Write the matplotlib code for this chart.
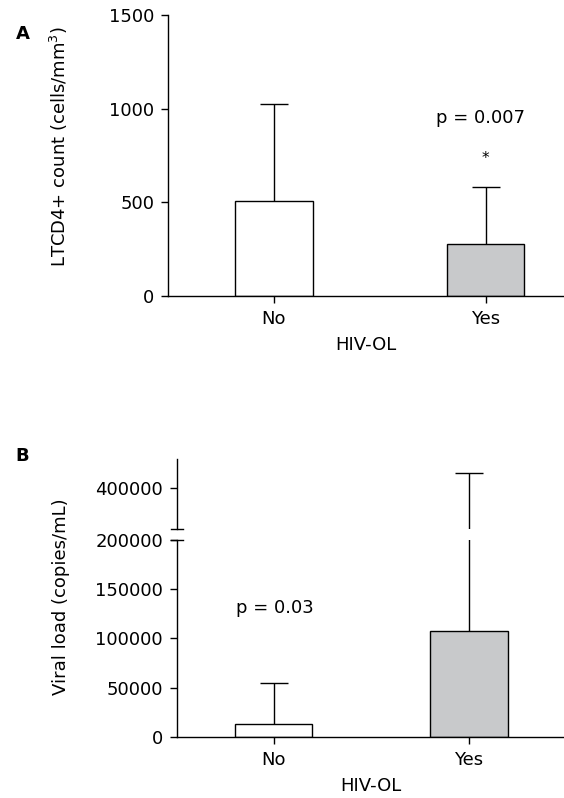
import matplotlib
matplotlib.use("Agg")
import matplotlib.pyplot as plt

# data
groups = ["No", "Yes"]
cd4_mean = [505, 276]
cd4_sd = [522, 308]
vl_mean = [13000, 107000]
vl_sd = [41500, 364000]

plt.rcParams['font.family'] = ['DejaVu Sans']
plt.rcParams['font.size'] = 13
plt.rcParams['axes.linewidth'] = 1.0
plt.rcParams['mathtext.default'] = 'regular'

fill = ["white", "#c8c9cb"]
fig = plt.figure(figsize=(5.64, 7.98), dpi=100)


def style(ax, bottom=True):
    ax.spines['top'].set_visible(False)
    ax.spines['right'].set_visible(False)
    ax.tick_params(direction='out', length=5, width=1.0, pad=5)
    if not bottom:
        ax.spines['bottom'].set_visible(False)
        ax.tick_params(axis='x', bottom=False, labelbottom=False)


def bars(ax, mean, sd, width):
    x = list(range(len(groups)))
    ax.bar(x, mean, width=width, color=fill, edgecolor='black', linewidth=1.0, zorder=2)
    # upper error only, no cap at the bar top
    _, caps, _ = ax.errorbar(x, mean, yerr=[[0] * len(sd), sd], fmt='none', ecolor='black',
                             elinewidth=1.0, capsize=10, capthick=1.0, zorder=3)
    caps[0].set_visible(False)


# ---- panel A
axA = fig.add_axes([0.2979, 0.6291, 0.7021, 0.3521])
bars(axA, cd4_mean, cd4_sd, 0.367)
axA.set_xlim(-0.501, 1.371)
axA.set_ylim(0, 1500)
axA.set_yticks([0, 500, 1000, 1500])
axA.set_xticks([0, 1])
axA.set_xticklabels(groups)
style(axA)
axA.set_xlabel("HIV-OL", labelpad=6)
axA.set_ylabel("LTCD4+ count (cells/mm$^3$)")
axA.yaxis.set_label_coords(-0.247, 0.53)
axA.text(0.974, 951, "p = 0.007", ha='center', va='center')
axA.text(1.0, 735, "*", ha='center', va='center', fontsize=11)
fig.text(0.028, 0.958, "A", fontweight='bold', fontsize=13, ha='left', va='center')

# ---- panel B (broken axis)
axB = fig.add_axes([0.3138, 0.0768, 0.6862, 0.2465])
axB2 = fig.add_axes([0.3138, 0.3367, 0.6862, 0.0881], sharex=axB)
for ax in (axB, axB2):
    bars(ax, vl_mean, vl_sd, 0.395)
axB.set_xlim(-0.497, 1.487)
axB.set_ylim(0, 200000)
axB.set_yticks([0, 50000, 100000, 150000, 200000])
axB2.set_ylim(200000, 540000)
axB2.set_yticks([400000])
axB.set_xticks([0, 1])
axB.set_xticklabels(groups)
style(axB)
style(axB2, bottom=False)
axB.set_xlabel("HIV-OL", labelpad=6)
axB.set_ylabel("Viral load (copies/mL)")
axB.yaxis.set_label_coords(-0.276, 0.71)
axB.text(0.005, 131000, "p = 0.03", ha='center', va='center')

d = 0.0155
axB.plot([-d, d], [1, 1], transform=axB.transAxes, color='black', lw=1.0, clip_on=False)
axB2.plot([-d, d], [0, 0], transform=axB2.transAxes, color='black', lw=1.0, clip_on=False)
fig.text(0.028, 0.429, "B", fontweight='bold', fontsize=13, ha='left', va='center')

fig.savefig("out.png", dpi=100)
